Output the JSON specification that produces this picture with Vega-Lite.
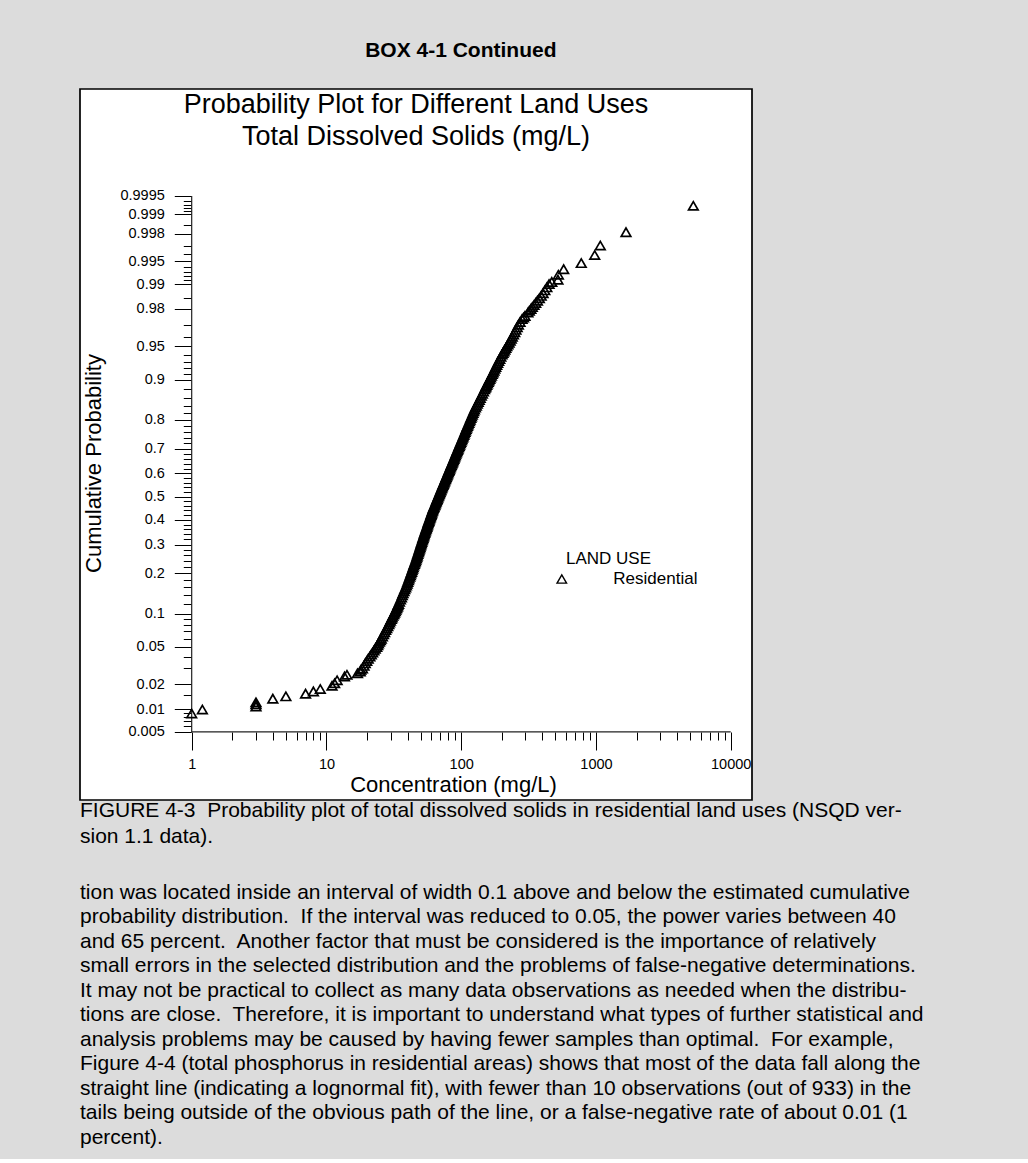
{
  "$schema": "https://vega.github.io/schema/vega-lite/v6.json",
  "background": "#dcdcdc",
  "padding": {"left": 79, "top": 40, "right": 0, "bottom": 0},
  "title": {"text": "BOX 4-1 Continued", "font": "Liberation Sans", "fontSize": 21, "fontWeight": "bold", "color": "black", "anchor": "start", "dx": 286, "baseline": "alphabetic", "offset": 10},
  "config": {"font": "Liberation Sans", "view": {"stroke": null}},
  "spacing": -2,
  "datasets": {
    "tds": [
      {"c":1,"p":0.0088},{"c":1.2,"p":0.0099},{"c":3,"p":0.0108},{"c":3,"p":0.0115},{"c":3,"p":0.0122},
      {"c":4,"p":0.0135},{"c":5,"p":0.0144},{"c":7,"p":0.0155},{"c":8,"p":0.0165},{"c":9,"p":0.0176},
      {"c":11,"p":0.0192},{"c":11.5,"p":0.0205},{"c":12,"p":0.0222},{"c":13.6,"p":0.0245},{"c":14.2,"p":0.0256},
      {"c":17,"p":0.0266},{"c":17.8,"p":0.0278},{"c":18,"p":0.029},
      {"c":18.5,"p":0.030},{"c":19.0,"p":0.032},{"c":19.4,"p":0.034},{"c":19.9,"p":0.036},{"c":20.4,"p":0.038},
      {"c":21.0,"p":0.040},{"c":21.5,"p":0.042},{"c":22.0,"p":0.044},{"c":22.5,"p":0.046},{"c":23.0,"p":0.048},
      {"c":23.6,"p":0.050},{"c":24.0,"p":0.052},{"c":24.3,"p":0.054},{"c":24.7,"p":0.056},{"c":25.1,"p":0.058},
      {"c":25.5,"p":0.060},{"c":26.0,"p":0.063},{"c":26.5,"p":0.066},{"c":27.0,"p":0.069},{"c":27.5,"p":0.072},
      {"c":28.0,"p":0.075},{"c":28.5,"p":0.078},{"c":29.0,"p":0.081},{"c":29.4,"p":0.084},{"c":29.8,"p":0.087},
      {"c":30.3,"p":0.090},{"c":30.7,"p":0.093},{"c":31.1,"p":0.096},{"c":31.6,"p":0.099},{"c":32.0,"p":0.102},
      {"c":32.4,"p":0.105},{"c":32.8,"p":0.108},{"c":33.2,"p":0.111},{"c":33.6,"p":0.114},{"c":33.9,"p":0.117},
      {"c":34.3,"p":0.120},{"c":34.8,"p":0.125},{"c":35.4,"p":0.13},{"c":36.0,"p":0.135},{"c":36.5,"p":0.14},
      {"c":37.0,"p":0.145},{"c":37.6,"p":0.15},{"c":38.1,"p":0.155},{"c":38.7,"p":0.16},{"c":39.2,"p":0.165},
      {"c":39.7,"p":0.17},{"c":40.1,"p":0.175},{"c":40.6,"p":0.18},{"c":41.0,"p":0.185},{"c":41.5,"p":0.19},
      {"c":41.9,"p":0.195},{"c":42.3,"p":0.20},{"c":42.8,"p":0.205},{"c":43.2,"p":0.21},{"c":43.6,"p":0.215},
      {"c":44.0,"p":0.22},{"c":44.4,"p":0.225},{"c":44.9,"p":0.23},{"c":45.3,"p":0.235},{"c":45.7,"p":0.24},
      {"c":46.1,"p":0.245},{"c":46.5,"p":0.25},{"c":46.9,"p":0.255},{"c":47.2,"p":0.26},{"c":47.6,"p":0.265},
      {"c":48.0,"p":0.27},{"c":48.4,"p":0.275},{"c":48.7,"p":0.28},{"c":49.1,"p":0.285},{"c":49.5,"p":0.29},
      {"c":49.8,"p":0.295},{"c":50.2,"p":0.30},{"c":50.5,"p":0.305},{"c":50.9,"p":0.31},{"c":51.3,"p":0.315},
      {"c":51.7,"p":0.32},{"c":52.0,"p":0.325},{"c":52.4,"p":0.33},{"c":52.8,"p":0.335},{"c":53.1,"p":0.34},
      {"c":53.5,"p":0.345},{"c":53.9,"p":0.35},{"c":54.3,"p":0.355},{"c":54.7,"p":0.36},{"c":55.1,"p":0.365},
      {"c":55.5,"p":0.37},{"c":55.9,"p":0.375},{"c":56.3,"p":0.38},{"c":56.7,"p":0.385},{"c":57.1,"p":0.39},
      {"c":57.5,"p":0.395},{"c":57.9,"p":0.40},{"c":58.3,"p":0.405},{"c":58.8,"p":0.41},{"c":59.2,"p":0.415},
      {"c":59.6,"p":0.42},{"c":60.0,"p":0.425},{"c":60.4,"p":0.43},{"c":60.8,"p":0.435},{"c":61.3,"p":0.44},
      {"c":61.7,"p":0.445},{"c":62.2,"p":0.45},{"c":62.7,"p":0.455},{"c":63.2,"p":0.46},{"c":63.8,"p":0.465},
      {"c":64.3,"p":0.47},{"c":64.8,"p":0.475},{"c":65.3,"p":0.48},{"c":65.8,"p":0.485},{"c":66.3,"p":0.49},
      {"c":66.9,"p":0.495},{"c":67.4,"p":0.50},{"c":68.0,"p":0.505},{"c":68.5,"p":0.51},{"c":69.1,"p":0.515},
      {"c":69.6,"p":0.52},{"c":70.2,"p":0.525},{"c":70.7,"p":0.53},{"c":71.3,"p":0.535},{"c":71.9,"p":0.54},
      {"c":72.5,"p":0.545},{"c":73.1,"p":0.55},{"c":73.7,"p":0.555},{"c":74.3,"p":0.56},{"c":74.9,"p":0.565},
      {"c":75.5,"p":0.57},{"c":76.2,"p":0.575},{"c":76.8,"p":0.58},{"c":77.4,"p":0.585},{"c":78.1,"p":0.59},
      {"c":78.7,"p":0.595},{"c":79.4,"p":0.60},{"c":80.1,"p":0.605},{"c":80.8,"p":0.61},{"c":81.4,"p":0.615},
      {"c":82.1,"p":0.62},{"c":82.8,"p":0.625},{"c":83.6,"p":0.63},{"c":84.3,"p":0.635},{"c":85.0,"p":0.64},
      {"c":85.8,"p":0.645},{"c":86.5,"p":0.65},{"c":87.3,"p":0.655},{"c":88.1,"p":0.66},{"c":88.8,"p":0.665},
      {"c":89.6,"p":0.67},{"c":90.4,"p":0.675},{"c":91.3,"p":0.68},{"c":92.1,"p":0.685},{"c":93.0,"p":0.69},
      {"c":93.8,"p":0.695},{"c":94.7,"p":0.70},{"c":95.6,"p":0.705},{"c":96.5,"p":0.71},{"c":97.4,"p":0.715},
      {"c":98.4,"p":0.72},{"c":99.3,"p":0.725},{"c":100.3,"p":0.73},{"c":101.3,"p":0.735},{"c":102.3,"p":0.74},
      {"c":103.3,"p":0.745},{"c":104.4,"p":0.75},{"c":105.5,"p":0.755},{"c":106.6,"p":0.76},{"c":107.7,"p":0.765},
      {"c":108.8,"p":0.77},{"c":110.0,"p":0.775},{"c":111.2,"p":0.78},{"c":112.5,"p":0.785},{"c":113.8,"p":0.79},
      {"c":115.1,"p":0.795},{"c":116.4,"p":0.80},{"c":117.8,"p":0.805},{"c":119.2,"p":0.81},{"c":120.7,"p":0.815},
      {"c":122.2,"p":0.82},{"c":123.8,"p":0.825},{"c":125.4,"p":0.83},{"c":127.4,"p":0.835},{"c":129.5,"p":0.84},
      {"c":131.6,"p":0.845},{"c":133.7,"p":0.85},{"c":136.0,"p":0.855},{"c":138.4,"p":0.86},{"c":140.9,"p":0.865},
      {"c":143.5,"p":0.87},{"c":146.3,"p":0.875},{"c":149.0,"p":0.88},{"c":150.9,"p":0.883},{"c":152.7,"p":0.886},
      {"c":154.6,"p":0.889},{"c":156.6,"p":0.892},{"c":158.6,"p":0.895},{"c":160.7,"p":0.898},{"c":162.8,"p":0.901},
      {"c":165.1,"p":0.904},{"c":167.4,"p":0.907},{"c":169.8,"p":0.910},{"c":172.4,"p":0.913},{"c":175.0,"p":0.916},
      {"c":177.6,"p":0.919},{"c":180.4,"p":0.922},{"c":183.5,"p":0.925},{"c":186.5,"p":0.928},{"c":189.7,"p":0.931},
      {"c":193.2,"p":0.934},{"c":196.8,"p":0.937},{"c":200.8,"p":0.940},{"c":204.1,"p":0.942},{"c":207.6,"p":0.944},
      {"c":210.9,"p":0.946},{"c":214.4,"p":0.948},{"c":217.9,"p":0.950},{"c":222.2,"p":0.952},{"c":226.5,"p":0.954},
      {"c":230.8,"p":0.956},{"c":235.1,"p":0.958},{"c":239.2,"p":0.960},{"c":244.2,"p":0.962},{"c":249.5,"p":0.964},
      {"c":254.7,"p":0.966},{"c":260.1,"p":0.968},{"c":265.6,"p":0.970},{"c":273.2,"p":0.972},{"c":282.8,"p":0.974},
      {"c":290,"p":0.975},{"c":297.4,"p":0.976},{"c":312.8,"p":0.978},{"c":320,"p":0.979},{"c":328.9,"p":0.980},
      {"c":337,"p":0.981},{"c":346.8,"p":0.982},{"c":357,"p":0.983},{"c":367.8,"p":0.984},{"c":380,"p":0.985},
      {"c":392,"p":0.986},{"c":405,"p":0.987},{"c":417.4,"p":0.988},{"c":432,"p":0.989},{"c":448.7,"p":0.990},
      {"c":470,"p":0.9906},{"c":522,"p":0.9912},{"c":526,"p":0.9924},{"c":576,"p":0.9936},{"c":778,"p":0.9947},
      {"c":979,"p":0.9959},{"c":1077,"p":0.997},{"c":1671,"p":0.9981},{"c":5279,"p":0.99927}
    ],
    "frame": [
      {"c":1,"c2":10000,"p":0.005,"p2":0.005},
      {"c":1,"c2":1,"p":0.005,"p2":0.9995}
    ]
  },
  "vconcat": [
    {
      "width": 672,
      "height": 711,
      "view": {"fill": "white", "stroke": "black", "strokeWidth": 1.7},
      "title": {"text": ["Probability Plot for Different Land Uses", "Total Dissolved Solids (mg/L)"], "font": "Liberation Sans", "fontSize": 27, "fontWeight": "normal", "color": "black", "anchor": "middle", "lineHeight": 32, "baseline": "alphabetic", "offset": -83},
      "layer": [
        {
          "data": {"name": "frame"},
          "transform": [
            {"calculate": "quantileNormal(datum.p)", "as": "z"},
            {"calculate": "quantileNormal(datum.p2)", "as": "z2"}
          ],
          "mark": {"type": "rule", "color": "#222222", "strokeWidth": 1.2},
          "encoding": {
            "x": {"field": "c", "type": "quantitative", "scale": {"type": "log", "domain": [0.1483, 14388], "nice": false}},
            "x2": {"field": "c2"},
            "y": {"field": "z", "type": "quantitative", "scale": {"domain": [-3.3206, 4.461], "nice": false, "zero": false}},
            "y2": {"field": "z2"}
          }
        },
        {
          "data": {"name": "tds"},
          "transform": [{"calculate": "quantileNormal(datum.p)", "as": "z"}],
          "mark": {"type": "point", "filled": false, "color": "black", "strokeWidth": 1.7, "size": 92, "opacity": 1},
          "encoding": {
            "x": {
              "field": "c", "type": "quantitative",
              "scale": {"type": "log", "domain": [0.1483, 14388], "nice": false},
              "axis": {
                "orient": "bottom", "offset": -68, "tickCount": 1000,
                "values": [1,2,3,4,5,6,7,8,9,10,20,30,40,50,60,70,80,90,100,200,300,400,500,600,700,800,900,1000,2000,3000,4000,5000,6000,7000,8000,9000,10000],
                "labelExpr": "indexof([1,10,100,1000,10000], datum.value) >= 0 ? format(datum.value, 'd') : ''",
                "tickSize": {"condition": {"test": "indexof([1,10,100,1000,10000], datum.value) >= 0", "value": 18}, "value": 8},
                "domain": false, "grid": false, "tickColor": "black", "tickWidth": 1,
                "labelFont": "Liberation Sans", "labelFontSize": 14.5, "labelColor": "black", "labelPadding": 7,
                "labelOverlap": false, "labelFlush": false, "labelBound": false,
                "title": "Concentration (mg/L)", "titleFont": "Liberation Sans", "titleFontSize": 22, "titleFontWeight": "normal", "titleColor": "black",
                "titleX": 373, "titleY": 59, "titleBaseline": "alphabetic", "titleAlign": "center"
              }
            },
            "y": {
              "field": "z", "type": "quantitative",
              "scale": {"domain": [-3.3206, 4.461], "nice": false, "zero": false},
              "axis": {
                "orient": "left", "offset": -111.3, "tickCount": 1000,
                "values": [-2.575829,-2.512144,-2.457263,-2.408916,-2.365618,-2.326348,-2.17009,-2.053749,-1.880794,-1.750686,-1.644854,-1.554774,-1.475791,-1.405072,-1.340755,-1.281552,-1.174987,-1.080319,-0.994458,-0.915365,-0.841621,-0.772193,-0.706303,-0.643345,-0.582842,-0.524401,-0.467699,-0.412463,-0.358459,-0.305481,-0.253347,-0.201893,-0.150969,-0.100434,-0.050154,0,0.050154,0.100434,0.150969,0.201893,0.253347,0.305481,0.358459,0.412463,0.467699,0.524401,0.582842,0.643345,0.706303,0.772193,0.841621,0.915365,0.994458,1.080319,1.174987,1.281552,1.340755,1.405072,1.475791,1.554774,1.644854,1.750686,1.880794,2.053749,2.17009,2.326348,2.365618,2.408916,2.457263,2.512144,2.575829,2.65207,2.747781,2.878162,2.967738,3.090232,3.121389,3.155906,3.194651,3.23888,3.290527],
                "labelExpr": "indexof([-2.575829,-2.326348,-2.053749,-1.644854,-1.281552,-0.841621,-0.524401,-0.253347,0,0.253347,0.524401,0.841621,1.281552,1.644854,2.053749,2.326348,2.575829,2.878162,3.090232,3.290527], datum.value) >= 0 ? format(cumulativeNormal(datum.value), '.4~f') : ''",
                "tickSize": {"condition": {"test": "indexof([-2.575829,-2.326348,-2.053749,-1.644854,-1.281552,-0.841621,-0.524401,-0.253347,0,0.253347,0.524401,0.841621,1.281552,1.644854,2.053749,2.326348,2.575829,2.878162,3.090232,3.290527], datum.value) >= 0", "value": 17}, "value": 8},
                "domain": false, "grid": false, "tickColor": "black", "tickWidth": 1,
                "labelFont": "Liberation Sans", "labelFontSize": 14.5, "labelColor": "black", "labelPadding": 10,
                "labelOverlap": false, "labelFlush": false, "labelBound": false,
                "title": "Cumulative Probability", "titleFont": "Liberation Sans", "titleFontSize": 22, "titleFontWeight": "normal", "titleColor": "black",
                "titleX": -90.8, "titleY": 374, "titleBaseline": "alphabetic", "titleAlign": "center", "titleAngle": 270
              }
            },
            "shape": {
              "datum": "Residential", "type": "nominal",
              "scale": {"range": ["triangle-up"]},
              "legend": {
                "orient": "none", "legendX": 486, "legendY": 461.5, "padding": 0,
                "title": "LAND USE", "titleFont": "Liberation Sans", "titleFontSize": 17, "titleFontWeight": "normal", "titleColor": "black", "titlePadding": 3,
                "labelFont": "Liberation Sans", "labelFontSize": 17, "labelColor": "black", "labelOffset": 43,
                "symbolType": "triangle-up", "symbolSize": 90, "symbolStrokeColor": "black", "symbolFillColor": "transparent", "symbolStrokeWidth": 1.4, "symbolOffset": -12.7
              }
            }
          }
        }
      ]
    },
    {
      "width": 949,
      "height": 11,
      "data": {"values": [{}]},
      "mark": {"type": "text", "text": ""},
      "title": {
        "text": ["FIGURE 4-3\u00a0 Probability plot of total dissolved solids in residential land uses (NSQD ver-", "sion 1.1 data)."],
        "subtitle": [
          "tion was located inside an interval of width 0.1 above and below the estimated cumulative",
          "probability distribution.\u00a0 If the interval was reduced to 0.05, the power varies between 40",
          "and 65 percent.\u00a0 Another factor that must be considered is the importance of relatively",
          "small errors in the selected distribution and the problems of false-negative determinations.",
          "It may not be practical to collect as many data observations as needed when the distribu-",
          "tions are close.\u00a0 Therefore, it is important to understand what types of further statistical and",
          "analysis problems may be caused by having fewer samples than optimal.\u00a0 For example,",
          "Figure 4-4 (total phosphorus in residential areas) shows that most of the data fall along the",
          "straight line (indicating a lognormal fit), with fewer than 10 observations (out of 933) in the",
          "tails being outside of the obvious path of the line, or a false-negative rate of about 0.01 (1",
          "percent)."
        ],
        "anchor": "start", "orient": "top", "baseline": "top", "offset": 0,
        "font": "Liberation Sans", "fontSize": 21, "fontWeight": "normal", "color": "black", "lineHeight": 26,
        "subtitleFont": "Liberation Sans", "subtitleFontSize": 21, "subtitleColor": "black", "subtitleLineHeight": 24.5, "subtitlePadding": 35
      }
    }
  ]
}
